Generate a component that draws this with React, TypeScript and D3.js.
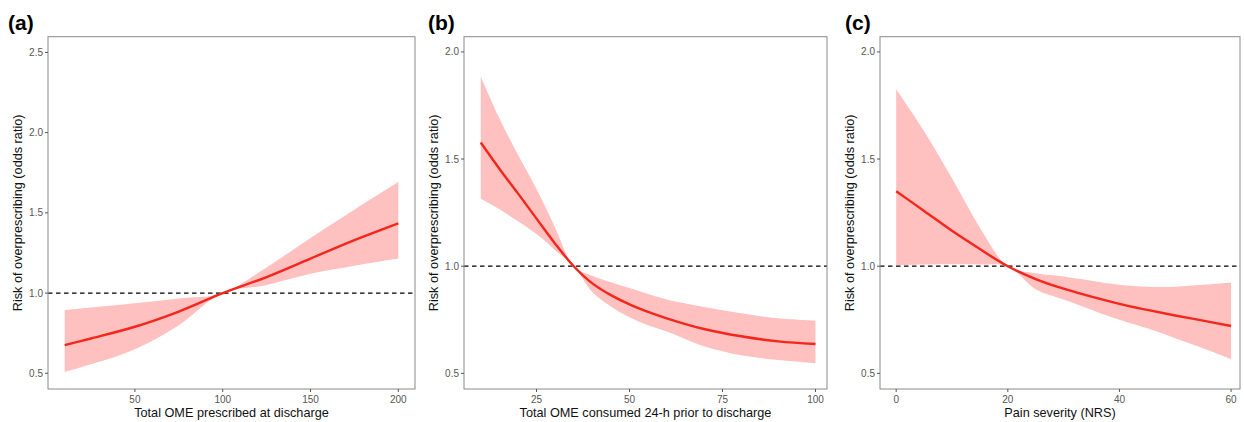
import React from "react";
import * as d3 from "d3";

// Panel (a): Total OME prescribed at discharge
const xA = [10, 25, 50, 75, 100, 125, 150, 175, 200];
const fitA = [0.675, 0.717, 0.79, 0.885, 1.0, 1.1, 1.215, 1.33, 1.435];
const upA = [0.894, 0.91, 0.937, 0.966, 1.0, 1.16, 1.344, 1.52, 1.692];
const loA = [0.508, 0.556, 0.65, 0.8, 1.0, 1.05, 1.12, 1.17, 1.215];

// Panel (b): Total OME consumed 24-h prior to discharge
const xB = [10, 15, 20, 25, 30, 35, 40, 45, 50, 55, 60, 70, 80, 90, 100];
const fitB = [1.577, 1.455, 1.34, 1.222, 1.105, 1.0, 0.92, 0.865, 0.822, 0.787, 0.757, 0.707, 0.673, 0.649, 0.637];
const upB = [1.885, 1.69, 1.52, 1.36, 1.18, 1.0, 0.955, 0.925, 0.898, 0.87, 0.845, 0.81, 0.78, 0.757, 0.746];
const loB = [1.316, 1.266, 1.21, 1.15, 1.075, 1.0, 0.88, 0.812, 0.762, 0.724, 0.695, 0.627, 0.585, 0.562, 0.547];

// Panel (c): Pain severity (NRS)
const xC = [0, 5, 10, 15, 20, 25, 30, 40, 45, 50, 55, 60];
const fitC = [1.35, 1.258, 1.165, 1.08, 1.0, 0.94, 0.895, 0.824, 0.796, 0.77, 0.746, 0.721];
const upC = [1.826, 1.63, 1.41, 1.18, 1.0, 0.967, 0.952, 0.913, 0.904, 0.904, 0.913, 0.924];
const loC = [1.005, 1.008, 1.009, 1.008, 1.0, 0.893, 0.845, 0.75, 0.71, 0.664, 0.617, 0.566];

const ticksXA = [50, 100, 150, 200];
const ticksXB = [25, 50, 75, 100];
const ticksXC = [0, 20, 40, 60];
const ticksYA = [0.5, 1.0, 1.5, 2.0, 2.5];
const ticksYB = [0.5, 1.0, 1.5, 2.0];
const ticksYC = [0.5, 1.0, 1.5, 2.0];

const panelLabels = ["(a)", "(b)", "(c)"];
const xTitles = [
  "Total OME prescribed at discharge",
  "Total OME consumed 24-h prior to discharge",
  "Pain severity (NRS)",
];
const yTitle = "Risk of overprescribing (odds ratio)";
const refValue = 1.0;

const FONT = "'Liberation Sans', Arial, sans-serif";

type PanelProps = {
  xs: number[];
  fit: number[];
  up: number[];
  lo: number[];
  xDomain: [number, number];
  yDomain: [number, number];
  xTicks: number[];
  yTicks: number[];
  left: number;
  right: number;
  label: string;
  labelX: number;
  yTitleX: number;
  xTitle: string;
};

const TOP = 36.7;
const BOTTOM = 389;

function Panel(p: PanelProps) {
  const x = d3.scaleLinear().domain(p.xDomain).range([p.left, p.right]);
  const y = d3.scaleLinear().domain(p.yDomain).range([BOTTOM, TOP]);
  const pts = p.xs.map((v, i) => ({ x: v, f: p.fit[i], u: p.up[i], l: p.lo[i] }));
  const curve = d3.curveCatmullRom.alpha(0.5);
  const area = d3
    .area<any>()
    .x((d) => x(d.x))
    .y0((d) => y(d.l))
    .y1((d) => y(d.u))
    .curve(curve);
  const line = d3
    .line<any>()
    .x((d) => x(d.x))
    .y((d) => y(d.f))
    .curve(curve);
  const fmt = d3.format(".1f");
  const xfmt = d3.format("d");
  const midY = (TOP + BOTTOM) / 2;
  return (
    <g>
      <text x={p.labelX} y={30} fontFamily={FONT} fontWeight="bold" fontSize={21} fill="#000">
        {p.label}
      </text>
      <rect x={p.left} y={TOP} width={p.right - p.left} height={BOTTOM - TOP} fill="#fff" />
      <path d={area(pts) || ""} fill="rgb(255,192,192)" stroke="none" />
      <line
        x1={p.left}
        x2={p.right}
        y1={y(refValue)}
        y2={y(refValue)}
        stroke="#000"
        strokeWidth={1.2}
        strokeDasharray="4.5,3.5"
      />
      <path d={line(pts) || ""} fill="none" stroke="#f5261b" strokeWidth={2.4} />
      <rect
        x={p.left}
        y={TOP}
        width={p.right - p.left}
        height={BOTTOM - TOP}
        fill="none"
        stroke="#8a8a8a"
        strokeWidth={1}
      />
      {p.yTicks.map((t) => (
        <g key={"y" + t}>
          <line x1={p.left - 3} x2={p.left} y1={y(t)} y2={y(t)} stroke="#555" strokeWidth={1} />
          <text
            x={p.left - 5}
            y={y(t)}
            dy="0.35em"
            textAnchor="end"
            fontFamily={FONT}
            fontSize={10}
            fill="#555"
          >
            {fmt(t)}
          </text>
        </g>
      ))}
      {p.xTicks.map((t) => (
        <g key={"x" + t}>
          <line x1={x(t)} x2={x(t)} y1={BOTTOM} y2={BOTTOM + 3} stroke="#555" strokeWidth={1} />
          <text x={x(t)} y={403} textAnchor="middle" fontFamily={FONT} fontSize={10} fill="#555">
            {xfmt(t)}
          </text>
        </g>
      ))}
      <text
        x={(p.left + p.right) / 2}
        y={416.5}
        textAnchor="middle"
        fontFamily={FONT}
        fontSize={12.7}
        fill="#111"
      >
        {p.xTitle}
      </text>
      <text
        transform={`translate(${p.yTitleX},${midY}) rotate(-90)`}
        textAnchor="middle"
        dy="0.35em"
        fontFamily={FONT}
        fontSize={12.7}
        fill="#111"
      >
        {yTitle}
      </text>
    </g>
  );
}

export default function App() {
  return (
    <svg width={1244} height={422} style={{ position: "absolute", left: 0, top: 0, background: "#fff" }}>
      <rect x={0} y={0} width={1244} height={422} fill="#fff" />
      <Panel
        xs={xA}
        fit={fitA}
        up={upA}
        lo={loA}
        xDomain={[0.5, 209.5]}
        yDomain={[0.402, 2.598]}
        xTicks={ticksXA}
        yTicks={ticksYA}
        left={48}
        right={415}
        label={panelLabels[0]}
        labelX={8}
        yTitleX={18}
        xTitle={xTitles[0]}
      />
      <Panel
        xs={xB}
        fit={fitB}
        up={upB}
        lo={loB}
        xDomain={[5.5, 103.1]}
        yDomain={[0.427, 2.071]}
        xTicks={ticksXB}
        yTicks={ticksYB}
        left={464}
        right={827}
        label={panelLabels[1]}
        labelX={428}
        yTitleX={434}
        xTitle={xTitles[1]}
      />
      <Panel
        xs={xC}
        fit={fitC}
        up={upC}
        lo={loC}
        xDomain={[-2.9, 61.6]}
        yDomain={[0.427, 2.071]}
        xTicks={ticksXC}
        yTicks={ticksYC}
        left={880}
        right={1240}
        label={panelLabels[2]}
        labelX={845}
        yTitleX={850}
        xTitle={xTitles[2]}
      />
    </svg>
  );
}
